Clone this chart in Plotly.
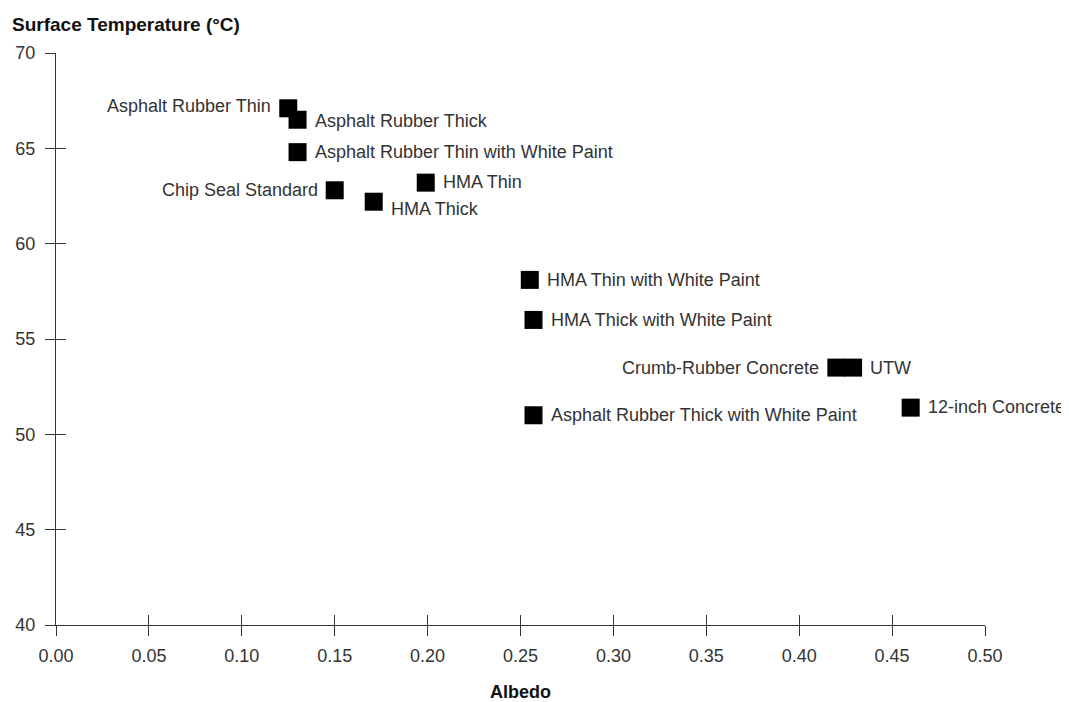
import plotly.graph_objects as go

names = ["Asphalt Rubber Thin", "Asphalt Rubber Thick", "Asphalt Rubber Thin with White Paint",
         "Chip Seal Standard", "HMA Thin", "HMA Thick", "HMA Thin with White Paint",
         "HMA Thick with White Paint", "Crumb-Rubber Concrete", "UTW",
         "Asphalt Rubber Thick with White Paint", "12-inch Concrete"]
albedo = [0.125, 0.130, 0.130, 0.150, 0.199, 0.171, 0.255, 0.257, 0.420, 0.429, 0.257, 0.460]
temp = [67.1, 66.5, 64.8, 62.8, 63.2, 62.2, 58.1, 56.0, 53.5, 53.5, 51.0, 51.4]
side = ["left", "right", "right", "left", "right", "right", "right", "right", "left", "right", "right", "right"]
yshifts = [2, -1, 0, 0, 1, -7, 0, 0, 0, 0, 0, 1]

xticks = [0.00, 0.05, 0.10, 0.15, 0.20, 0.25, 0.30, 0.35, 0.40, 0.45, 0.50]
yticks = [40, 45, 50, 55, 60, 65, 70]

font = "Liberation Sans, Arial, sans-serif"

fig = go.Figure()
fig.add_trace(go.Scatter(x=albedo, y=temp, mode="markers",
                         marker=dict(symbol="square", size=18, color="black", line=dict(width=0)),
                         hoverinfo="text", text=names, showlegend=False))

for n, xv, yv, s, ys in zip(names, albedo, temp, side, yshifts):
    fig.add_annotation(x=xv, y=yv, text=n, showarrow=False,
                       xanchor="right" if s == "left" else "left",
                       xshift=-15 if s == "left" else 15, yshift=ys,
                       font=dict(family=font, size=18, color="#333333"))

# inner half of crossing ticks via overlay axes
fig.add_trace(go.Scatter(x=[0], y=[40], xaxis="x2", yaxis="y2", mode="markers",
                         marker=dict(opacity=0), showlegend=False, hoverinfo="skip"))

axis_common = dict(showgrid=False, zeroline=False, showline=True, linecolor="#333333", linewidth=1,
                   ticks="outside", ticklen=10, tickcolor="#333333", tickwidth=1, automargin=False,
                   tickfont=dict(family=font, size=18, color="#333333"))

fig.update_layout(
    width=1061, height=694,
    margin=dict(l=48, r=84, t=45, b=77, autoexpand=False),
    paper_bgcolor="white", plot_bgcolor="white",
    xaxis=dict(range=[0, 0.5], tickvals=xticks, ticktext=[f"{v:.2f}" for v in xticks],
               ticklabelstandoff=4,
               title=dict(text="<b>Albedo</b>", font=dict(family=font, size=18, color="#111111"), standoff=24),
               **axis_common),
    yaxis=dict(range=[40, 70], tickvals=yticks, ticktext=[str(v) for v in yticks],
               ticklabelstandoff=6, **axis_common),
    xaxis2=dict(range=[0, 0.5], overlaying="x", tickvals=xticks, showticklabels=False, ticks="inside",
                ticklen=10, tickcolor="#333333", tickwidth=1, showgrid=False, zeroline=False, showline=False,
                anchor="y2", side="bottom", automargin=False),
    yaxis2=dict(range=[40, 70], overlaying="y", tickvals=yticks, showticklabels=False, ticks="inside",
                ticklen=10, tickcolor="#333333", tickwidth=1, showgrid=False, zeroline=False, showline=False,
                anchor="x2", side="left", automargin=False),
    annotations=list(fig.layout.annotations) + [
        dict(text="<b>Surface Temperature (°C)</b>", xref="paper", yref="paper", x=-0.050, y=1.0,
             xanchor="left", yanchor="bottom", yshift=16, showarrow=False,
             font=dict(family=font, size=19, color="#111111"))
    ],
)

fig.write_html("out.html")
